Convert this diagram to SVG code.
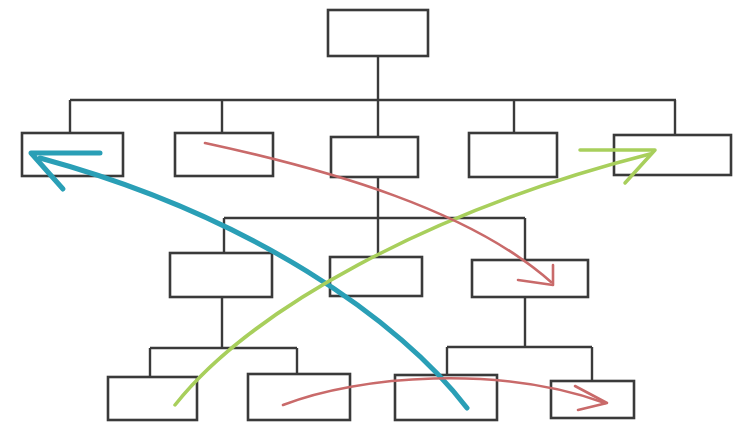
<svg xmlns="http://www.w3.org/2000/svg" width="740" height="425" viewBox="0 0 740 425">
<style>
.box{fill:#fff;stroke:#3a3a3a;stroke-width:2.6}
.tree{fill:none;stroke:#3a3a3a;stroke-width:2.4}
.arr{fill:none;stroke-linecap:round;stroke-linejoin:round}
.blue{stroke:#2a9fb6;stroke-width:5}
.green{stroke:#a8cf5c;stroke-width:3.5}
.red{stroke:#c96a6a;stroke-width:2.6}
</style>
<rect width="740" height="425" fill="#fff"/>
<g id="tree-connectors">
<path class="tree" d="M378,56 V100 M70,100 H676 M70,100 V133 M222,100 V133 M378,100 V137 M514,100 V133 M675,100 V135"/>
<path class="tree" d="M378,177 V257 M224,218 H525 M224,218 V253 M525,218 V260"/>
<path class="tree" d="M222,297 V348 M150,348 H297 M150,348 V377 M297,348 V374"/>
<path class="tree" d="M525,297 V347 M447,347 H592 M447,347 V375 M592,347 V381"/>
</g>
<g id="n-root"><rect class="box" x="328" y="10" width="100" height="46"/></g>
<g id="n-a1"><rect class="box" x="22" y="133" width="101" height="43"/></g>
<g id="n-a2"><rect class="box" x="175" y="133" width="98" height="43"/></g>
<g id="n-a3"><rect class="box" x="331" y="137" width="87" height="40"/></g>
<g id="n-a4"><rect class="box" x="469" y="133" width="88" height="44"/></g>
<g id="n-a5"><rect class="box" x="614" y="135" width="117" height="40"/></g>
<g id="n-b1"><rect class="box" x="170" y="253" width="102" height="44"/></g>
<g id="n-b2"><rect class="box" x="330" y="257" width="92" height="39"/></g>
<g id="n-b3"><rect class="box" x="472" y="260" width="116" height="37"/></g>
<g id="n-c1"><rect class="box" x="108" y="377" width="89" height="43"/></g>
<g id="n-c2"><rect class="box" x="248" y="374" width="102" height="46"/></g>
<g id="n-c3"><rect class="box" x="395" y="375" width="102" height="45"/></g>
<g id="n-c4"><rect class="box" x="551" y="381" width="83" height="37"/></g>
<g id="arrows">
<path class="arr blue" d="M467,408 C400,320 250,215 40,158"/>
<path class="arr blue" d="M100,153 H31 L63,189"/>
<path class="arr green" d="M175,405 C250,310 430,210 650,154"/>
<path class="arr green" d="M580,150 H655 L625,183"/>
<path class="arr red" d="M205,143 C330,170 470,210 551,282"/>
<path class="arr red" d="M518,280 L553,285 V265"/>
<path class="arr red" d="M283,405 C360,375 500,365 605,403"/>
<path class="arr red" d="M575,386 L607,403 L578,410"/>
</g>
</svg>
